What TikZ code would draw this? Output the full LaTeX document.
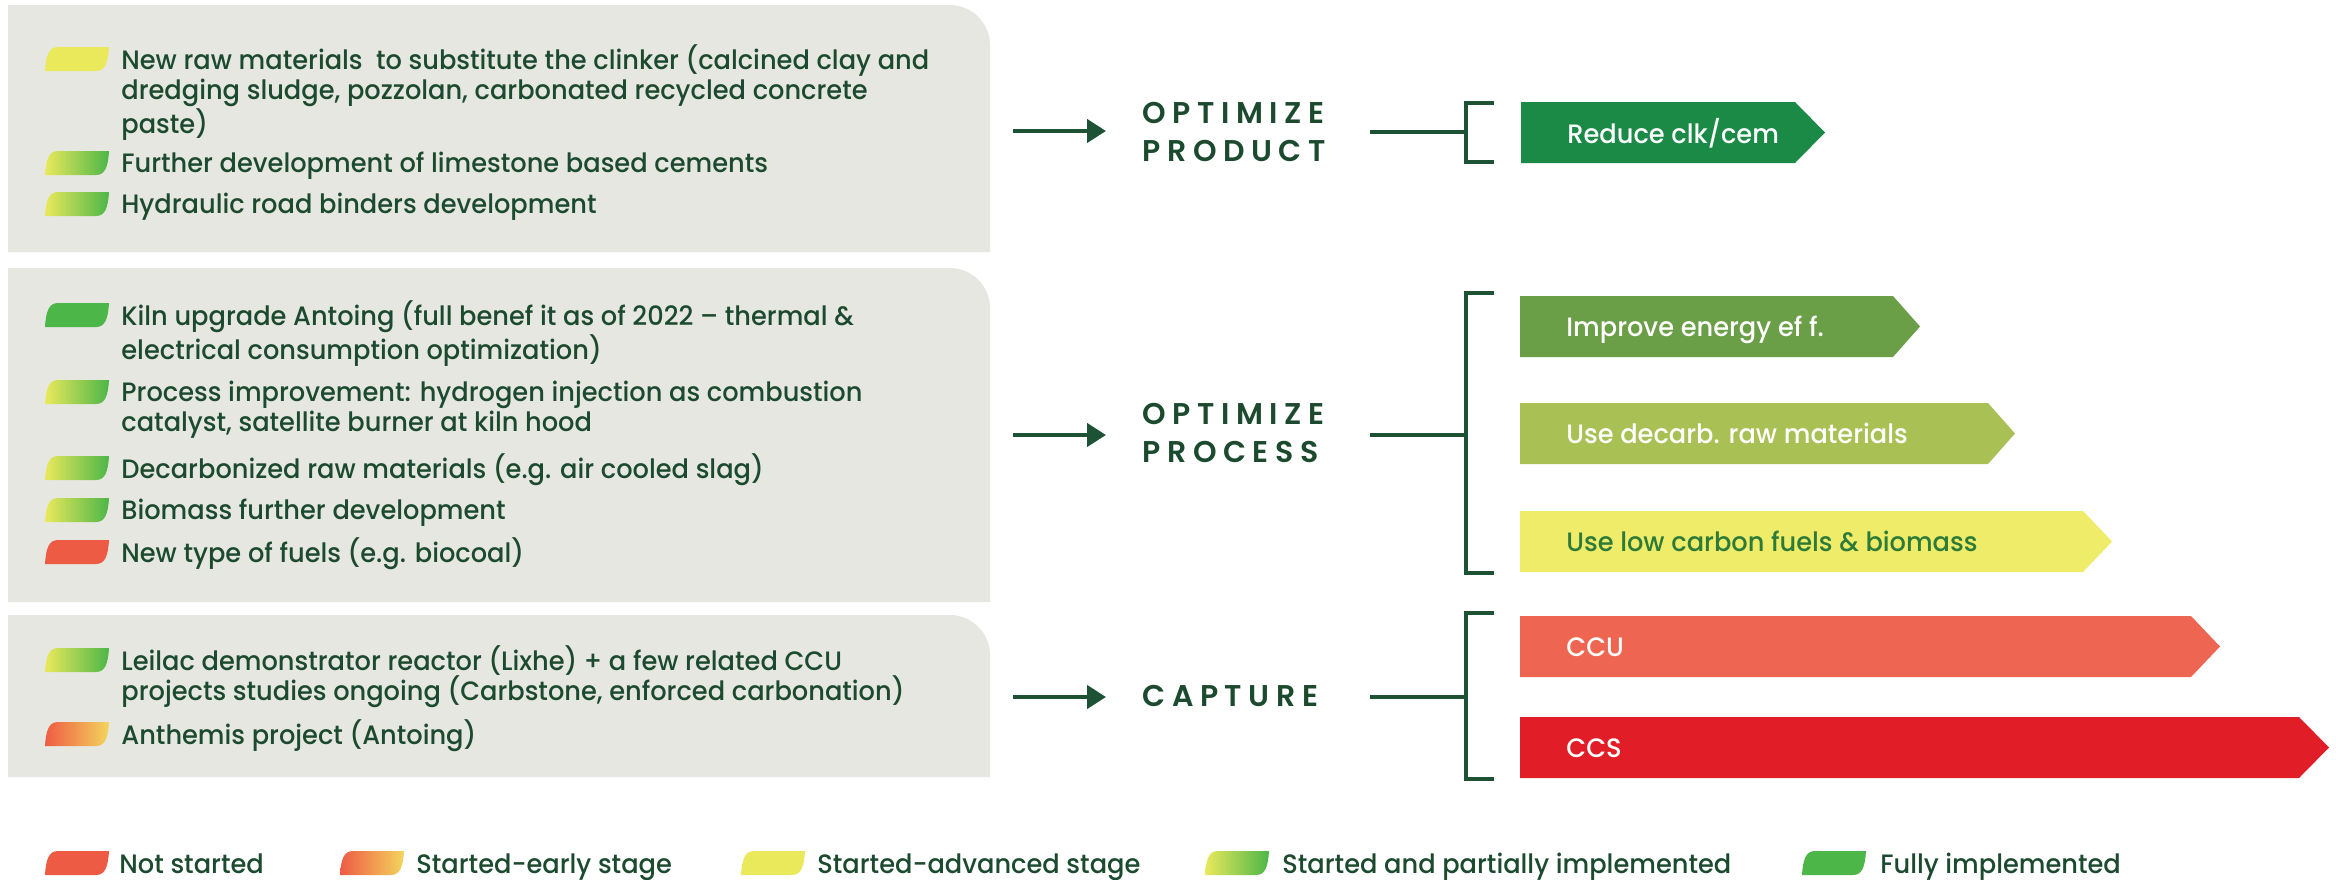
\documentclass[tikz,border=0pt]{standalone}
\usepackage{fontspec}
\setmainfont{Poppins Medium}[FakeStretch=0.965]
\newfontfamily\headfont{Poppins SemiBold}[LetterSpace=22]
\usetikzlibrary{arrows.meta}
\definecolor{panel}{HTML}{E7E7E1}
\definecolor{txt}{HTML}{1C4A2E}
\definecolor{lineC}{HTML}{1D5234}
\definecolor{cRed}{HTML}{EE5B45}
\definecolor{cYel}{HTML}{EAE95C}
\definecolor{cGrn}{HTML}{4CB648}
\definecolor{cOrY}{HTML}{F3D55C}
\definecolor{bA}{HTML}{1A8A46}
\definecolor{bB}{HTML}{6A9E47}
\definecolor{bC}{HTML}{A9C054}
\definecolor{bD}{HTML}{EEEC68}
\definecolor{bE}{HTML}{EE6651}
\definecolor{bF}{HTML}{E11E27}
\definecolor{dtxt}{HTML}{2E7A38}
\newcommand\lstr{\rule{0pt}{12pt}}
\newcommand\hstr{\rule{0pt}{13pt}}
\begin{document}
\begin{tikzpicture}[x=0.5pt,y=-0.5pt,
  body/.style={anchor=north west, inner sep=0pt, align=left, text=txt, font=\fontsize{13.3}{15}\selectfont},
  head/.style={anchor=north west, inner sep=0pt, align=left, text=txt, font=\headfont\fontsize{15}{19}\selectfont},
  btext/.style={anchor=base west, inner sep=0pt, text=white, font=\fontsize{13.3}{15}\selectfont},
  ltext/.style={anchor=base west, inner sep=0pt, text=txt, font=\fontsize{13.3}{15}\selectfont},
  conn/.style={draw=lineC, line width=2.2pt},
  arr/.style={conn, -{Triangle[length=9.5pt,width=11.5pt]}},
  leaf/.pic={\path[#1] (0,24) .. controls (1,8) and (4,0) .. (13,0) -- (64,0) .. controls (63,16) and (60,24) .. (51,24) -- cycle;},
]
\useasboundingbox (0,0) rectangle (2336,879);
\fill[white] (0,0) rectangle (2336,879);

% panels
\fill[panel] (8,5) -- (950,5) .. controls (972,5) and (990,23) .. (990,45) -- (990,252) -- (8,252) -- cycle;
\fill[panel] (8,268) -- (950,268) .. controls (972,268) and (990,286) .. (990,308) -- (990,602) -- (8,602) -- cycle;
\fill[panel] (8,615) -- (950,615) .. controls (972,615) and (990,633) .. (990,655) -- (990,777) -- (8,777) -- cycle;

% panel 1 items
\pic at (45,47) {leaf={fill=cYel}};
\node[body] (t11) at (121,44) {\lstr New raw materials\ \ to substitute the clinker (calcined clay and\\dredging sludge, pozzolan, carbonated recycled concrete\\paste)};
\pic at (45,151) {leaf={left color=cYel,right color=cGrn}};
\node[body] (t12) at (121,148) {\lstr Further development of limestone based cements};
\pic at (45,192) {leaf={left color=cYel,right color=cGrn}};
\node[body] (t13) at (121,189) {\lstr Hydraulic road binders development};

% panel 2 items
\pic at (45,303) {leaf={fill=cGrn}};
\node[body] (t21) at (121,300) {\lstr Kiln upgrade Antoing (full benef it as of 2022 – thermal \&\\electrical consumption optimization)};
\pic at (45,380) {leaf={left color=cYel,right color=cGrn}};
\node[body] (t22) at (121,377) {\lstr Process improvement: hydrogen injection as combustion\\catalyst, satellite burner at kiln hood};
\pic at (45,456) {leaf={left color=cYel,right color=cGrn}};
\node[body] (t23) at (121,453) {\lstr Decarbonized raw materials (e.g. air cooled slag)};
\pic at (45,498) {leaf={left color=cYel,right color=cGrn}};
\node[body] (t24) at (121,495) {\lstr Biomass further development};
\pic at (45,540) {leaf={fill=cRed}};
\node[body] (t25) at (121,537) {\lstr New type of fuels (e.g. biocoal)};

% panel 3 items
\pic at (45,648) {leaf={left color=cYel,right color=cGrn}};
\node[body] (t31) at (121,645) {\lstr Leilac demonstrator reactor (Lixhe) + a few related CCU\\projects studies ongoing (Carbstone, enforced carbonation)};
\pic at (45,722) {leaf={left color=cRed,right color=cOrY}};
\node[body] (t32) at (121,719) {\lstr Anthemis project (Antoing)};

% headings
\node[head] (hP) at (1142,97) {\hstr OPTIMIZE\\PRODUCT};
\node[head] (hQ) at (1142,398) {\hstr OPTIMIZE\\PROCESS};
\node[head] (hC) at (1142,680) {\hstr CAPTURE};

% arrows into headings
\coordinate (aPs) at (1013,131); \coordinate (aPe) at (1106,131);
\coordinate (aQs) at (1013,435); \coordinate (aQe) at (1106,435);
\coordinate (aCs) at (1013,697); \coordinate (aCe) at (1106,697);
\draw[arr] (aPs) -- (aPe);
\draw[arr] (aQs) -- (aQe);
\draw[arr] (aCs) -- (aCe);

% lines to brackets
\coordinate (lPs) at (1370,132); \coordinate (kP) at (1466,132);
\coordinate (lQs) at (1370,435); \coordinate (kQ) at (1466,435);
\coordinate (lCs) at (1370,697); \coordinate (kC) at (1466,697);
\draw[conn] (lPs) -- (kP);
\draw[conn] (lQs) -- (kQ);
\draw[conn] (lCs) -- (kC);
\draw[conn] (1494,103) -- (1466,103) -- (1466,162) -- (1494,162);
\draw[conn] (1494,293) -- (1466,293) -- (1466,573) -- (1494,573);
\draw[conn] (1494,613) -- (1466,613) -- (1466,779) -- (1494,779);

% arrow boxes
\fill[bA] (1521,102) -- (1795,102) -- (1825,132.5) -- (1795,163) -- (1521,163) -- cycle;
\node[btext] (bt1) at (1567,143) {Reduce clk/cem};
\fill[bB] (1520,296) -- (1893,296) -- (1920,326.5) -- (1893,357) -- (1520,357) -- cycle;
\node[btext] (bt2) at (1566,336) {Improve energy ef f.};
\fill[bC] (1520,403) -- (1988,403) -- (2015,433.5) -- (1988,464) -- (1520,464) -- cycle;
\node[btext] (bt3) at (1566,443) {Use decarb. raw materials};
\fill[bD] (1520,511) -- (2083,511) -- (2112,541.5) -- (2083,572) -- (1520,572) -- cycle;
\node[btext,text=dtxt] (bt4) at (1566,551) {Use low carbon fuels \& biomass};
\fill[bE] (1520,616) -- (2191,616) -- (2220,646.5) -- (2191,677) -- (1520,677) -- cycle;
\node[btext] (bt5) at (1566,656) {CCU};
\fill[bF] (1520,717) -- (2299,717) -- (2329,747.5) -- (2299,778) -- (1520,778) -- cycle;
\node[btext] (bt6) at (1566,757) {CCS};

% legend
\pic at (45,851) {leaf={fill=cRed}};
\node[ltext] (l1) at (119,873) {Not started};
\pic at (340,851) {leaf={left color=cRed,right color=cOrY}};
\node[ltext] (l2) at (416,873) {Started-early stage};
\pic at (741,851) {leaf={fill=cYel}};
\node[ltext] (l3) at (817,873) {Started-advanced stage};
\pic at (1205,851) {leaf={left color=cYel,right color=cGrn}};
\node[ltext] (l4) at (1282,873) {Started and partially implemented};
\pic at (1802,851) {leaf={fill=cGrn}};
\node[ltext] (l5) at (1880,873) {Fully implemented};
\end{tikzpicture}
\end{document}
